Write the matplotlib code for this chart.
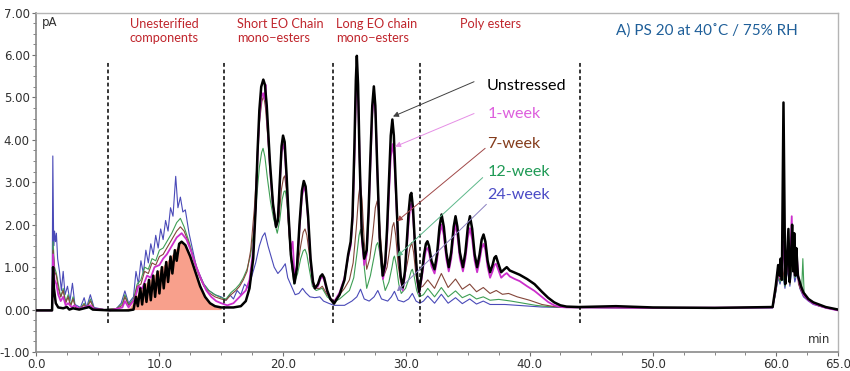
import numpy as np
import matplotlib
matplotlib.use("Agg")
import matplotlib.pyplot as plt
from matplotlib.ticker import MultipleLocator, FormatStrFormatter

# (time min, signal pA)
unstressed = [
    (0.0, -0.02), (1.3, -0.02), (1.38, 1.0), (1.45, 0.5), (1.6, 0.15), (1.8, 0.05), (2.2, 0.03),
    (2.5, 0.06), (2.7, 0.0), (3.0, 0.03), (3.5, 0.0), (4.3, 0.06), (4.6, 0.0), (6.0, -0.02),
    (7.5, -0.02), (7.9, 0.0), (8.1, 0.3), (8.25, 0.08), (8.45, 0.5), (8.6, 0.12), (8.8, 0.6),
    (8.95, 0.18), (9.15, 0.7), (9.3, 0.22), (9.5, 0.8), (9.65, 0.3), (9.85, 0.9), (10.0, 0.38),
    (10.2, 1.0), (10.35, 0.5), (10.55, 1.12), (10.7, 0.65), (10.9, 1.25), (11.05, 0.85),
    (11.25, 1.4), (11.4, 1.15), (11.6, 1.55), (11.8, 1.6), (12.1, 1.52), (12.5, 1.25),
    (12.9, 0.9), (13.3, 0.55), (13.7, 0.3), (14.1, 0.15), (14.5, 0.08), (15.0, 0.05),
    (16.0, 0.05), (16.6, 0.08), (17.0, 0.2), (17.3, 0.5), (17.6, 1.2), (17.8, 2.4),
    (17.95, 3.7), (18.1, 4.7), (18.25, 5.25), (18.42, 5.42), (18.55, 5.3), (18.7, 4.8),
    (18.95, 3.5), (19.2, 2.5), (19.45, 1.95), (19.6, 2.1), (19.75, 3.0), (19.9, 3.85),
    (20.02, 4.1), (20.15, 3.95), (20.3, 3.2), (20.45, 2.3), (20.65, 1.3), (20.95, 0.62),
    (21.15, 1.0), (21.35, 2.0), (21.55, 2.8), (21.7, 3.03), (21.85, 2.9), (22.05, 2.2),
    (22.25, 1.2), (22.45, 0.65), (22.6, 0.5), (22.85, 0.6), (23.05, 0.78), (23.2, 0.83),
    (23.35, 0.75), (23.6, 0.45), (23.85, 0.25), (24.15, 0.14), (24.6, 0.35), (25.0, 0.7),
    (25.3, 1.3), (25.5, 1.6), (25.65, 2.2), (25.8, 3.8), (25.92, 5.4), (26.0, 5.98),
    (26.1, 5.3), (26.22, 3.6), (26.4, 1.8), (26.6, 1.2), (26.8, 1.4), (26.95, 2.3), (27.1, 3.6),
    (27.25, 4.8), (27.38, 5.26), (27.5, 4.8), (27.65, 3.4), (27.85, 1.7), (28.1, 0.8),
    (28.3, 1.1), (28.45, 1.9), (28.6, 3.0), (28.75, 4.1), (28.88, 4.48), (29.0, 4.1),
    (29.15, 3.0), (29.35, 1.6), (29.55, 0.8), (29.72, 0.52), (29.9, 0.9), (30.05, 1.6),
    (30.2, 2.3), (30.33, 2.7), (30.42, 2.75), (30.55, 2.4), (30.7, 1.6), (30.9, 0.75),
    (31.05, 0.42), (31.25, 0.8), (31.45, 1.3), (31.6, 1.55), (31.72, 1.61), (31.85, 1.5),
    (32.05, 1.15), (32.3, 0.95), (32.5, 1.3), (32.7, 1.95), (32.87, 2.24), (33.05, 1.95),
    (33.25, 1.35), (33.45, 1.0), (33.65, 1.35), (33.85, 1.95), (34.0, 2.2), (34.15, 1.95),
    (34.35, 1.35), (34.6, 1.0), (34.8, 1.35), (35.0, 1.95), (35.17, 2.2), (35.35, 1.9),
    (35.55, 1.3), (35.75, 1.0), (35.95, 1.3), (36.12, 1.65), (36.27, 1.77), (36.42, 1.6),
    (36.6, 1.15), (36.8, 0.88), (37.0, 1.05), (37.15, 1.22), (37.28, 1.26), (37.45, 1.1),
    (37.7, 0.88), (37.95, 0.95), (38.15, 1.0), (38.4, 0.92), (38.8, 0.87), (39.2, 0.82),
    (39.8, 0.72), (40.4, 0.6), (41.0, 0.42), (41.5, 0.28), (42.0, 0.17), (42.5, 0.1),
    (43.0, 0.07), (44.0, 0.06), (47.0, 0.08), (50.0, 0.05), (55.0, 0.04), (59.7, 0.06),
    (59.95, 0.55), (60.15, 1.05), (60.25, 0.8), (60.35, 1.2), (60.45, 0.7), (60.58, 4.88),
    (60.72, 0.6), (60.82, 0.9), (60.98, 1.9), (61.08, 0.65), (61.18, 1.1), (61.28, 2.0),
    (61.38, 0.9), (61.45, 1.8), (61.55, 0.8), (61.62, 1.45), (61.75, 0.8), (62.0, 0.55),
    (62.2, 0.4), (62.6, 0.25), (63.0, 0.17), (64.0, 0.06), (65.0, 0.0),
]

week1 = [
    (0.0, -0.02), (1.3, -0.02), (1.38, 1.3), (1.5, 0.7), (1.65, 0.6), (1.8, 0.35), (2.0, 0.2),
    (2.2, 0.3), (2.4, 0.1), (2.6, 0.15), (2.9, 0.05), (3.1, 0.1), (3.5, 0.02), (4.4, 0.1),
    (4.7, 0.02), (6.0, -0.02), (7.0, 0.05), (7.2, 0.2), (7.5, 0.05), (8.0, 0.25), (8.3, 0.55),
    (8.6, 0.5), (9.0, 0.8), (9.3, 0.75), (9.6, 1.0), (10.0, 1.05), (10.3, 1.2), (10.6, 1.3),
    (11.0, 1.5), (11.4, 1.7), (11.8, 1.8), (12.2, 1.65), (12.6, 1.35), (13.0, 1.0), (13.4, 0.7),
    (13.8, 0.45), (14.2, 0.3), (14.6, 0.2), (15.0, 0.15), (15.5, 0.1), (16.0, 0.15), (16.5, 0.3),
    (17.0, 0.45), (17.3, 0.7), (17.6, 1.4), (17.8, 2.4), (17.95, 3.6), (18.1, 4.5),
    (18.25, 5.0), (18.4, 5.1), (18.52, 4.95), (18.6, 5.3), (18.68, 4.75), (18.95, 3.4),
    (19.2, 2.45), (19.45, 1.95), (19.6, 2.1), (19.75, 2.9), (19.9, 3.7), (20.02, 3.9),
    (20.15, 3.75), (20.3, 3.05), (20.45, 2.2), (20.65, 1.4), (20.8, 1.6), (20.95, 0.8),
    (21.15, 1.05), (21.35, 1.9), (21.55, 2.65), (21.72, 2.9), (21.88, 2.75), (22.05, 2.1),
    (22.25, 1.15), (22.45, 0.6), (22.6, 0.5), (22.85, 0.55), (23.05, 0.72), (23.2, 0.78),
    (23.35, 0.7), (23.6, 0.42), (23.85, 0.26), (24.15, 0.18), (24.6, 0.4), (25.0, 0.75),
    (25.3, 1.25), (25.5, 1.5), (25.65, 2.1), (25.8, 3.5), (25.92, 5.0), (26.02, 5.5),
    (26.12, 4.9), (26.25, 3.3), (26.42, 1.6), (26.6, 1.05), (26.8, 1.3), (26.95, 2.2),
    (27.1, 3.4), (27.25, 4.6), (27.4, 5.1), (27.52, 4.6), (27.67, 3.2), (27.87, 1.5),
    (28.12, 0.72), (28.3, 1.0), (28.45, 1.7), (28.6, 2.7), (28.75, 3.6), (28.9, 3.9),
    (29.02, 3.6), (29.17, 2.7), (29.37, 1.4), (29.57, 0.7), (29.72, 0.45), (29.9, 0.8),
    (30.05, 1.45), (30.2, 2.05), (30.33, 2.42), (30.43, 2.5), (30.56, 2.2), (30.72, 1.45),
    (30.9, 0.68), (31.05, 0.38), (31.25, 0.72), (31.45, 1.15), (31.6, 1.4), (31.72, 1.45),
    (31.85, 1.35), (32.05, 1.02), (32.3, 0.85), (32.5, 1.15), (32.7, 1.75), (32.87, 2.0),
    (33.05, 1.75), (33.25, 1.2), (33.45, 0.9), (33.65, 1.2), (33.85, 1.75), (34.0, 2.0),
    (34.15, 1.75), (34.35, 1.2), (34.6, 0.9), (34.8, 1.2), (35.0, 1.7), (35.17, 1.92),
    (35.35, 1.65), (35.55, 1.15), (35.75, 0.88), (35.95, 1.15), (36.12, 1.45), (36.27, 1.55),
    (36.42, 1.4), (36.6, 1.0), (36.8, 0.75), (37.0, 0.9), (37.15, 1.05), (37.28, 1.08),
    (37.45, 0.95), (37.7, 0.75), (37.95, 0.82), (38.15, 0.86), (38.4, 0.78), (38.8, 0.72),
    (39.2, 0.67), (39.8, 0.55), (40.4, 0.44), (41.0, 0.3), (41.5, 0.18), (42.0, 0.1),
    (42.5, 0.06), (43.0, 0.05), (44.0, 0.05), (50.0, 0.04), (59.7, 0.05), (59.95, 0.5),
    (60.15, 0.95), (60.3, 0.75), (60.45, 1.0), (60.6, 1.6), (60.72, 0.6), (60.9, 1.2),
    (61.05, 0.7), (61.25, 2.2), (61.35, 0.9), (61.45, 1.7), (61.55, 0.8), (61.65, 1.3),
    (61.8, 0.7), (62.0, 0.5), (62.2, 0.35), (62.6, 0.22), (63.0, 0.14), (64.0, 0.04),
    (65.0, -0.02),
]

week7 = [
    (0.0, -0.02), (1.3, -0.02), (1.38, 1.4), (1.5, 0.9), (1.65, 0.8), (1.8, 0.5), (2.0, 0.3),
    (2.2, 0.45), (2.4, 0.15), (2.6, 0.3), (2.8, 0.08), (3.0, 0.25), (3.2, 0.05), (3.6, 0.03),
    (3.9, 0.12), (4.1, 0.03), (4.4, 0.2), (4.7, 0.03), (5.5, 0.0), (6.5, 0.02), (7.0, 0.1),
    (7.2, 0.3), (7.5, 0.1), (7.9, 0.2), (8.2, 0.55), (8.5, 0.6), (8.8, 0.9), (9.1, 0.85),
    (9.4, 1.1), (9.7, 1.05), (10.0, 1.25), (10.3, 1.3), (10.6, 1.45), (11.0, 1.65), (11.4, 1.85),
    (11.7, 1.95), (12.0, 1.85), (12.4, 1.55), (12.8, 1.15), (13.2, 0.8), (13.6, 0.55),
    (14.0, 0.4), (14.5, 0.3), (15.0, 0.25), (15.4, 0.22), (15.8, 0.35), (16.2, 0.45),
    (16.5, 0.55), (16.8, 0.7), (17.1, 0.9), (17.4, 1.4), (17.7, 2.4), (17.9, 3.4), (18.1, 4.4),
    (18.3, 4.9), (18.45, 5.05), (18.6, 4.75), (18.8, 4.0), (19.0, 3.2), (19.25, 2.4),
    (19.5, 2.0), (19.7, 2.2), (19.9, 2.85), (20.05, 3.1), (20.15, 3.15), (20.3, 2.8),
    (20.5, 1.8), (20.7, 1.1), (20.9, 0.7), (21.2, 1.0), (21.45, 1.5), (21.65, 1.82),
    (21.8, 1.9), (21.95, 1.75), (22.15, 1.3), (22.4, 0.7), (22.7, 0.5), (23.0, 0.5),
    (23.2, 0.55), (23.6, 0.35), (24.15, 0.2), (24.6, 0.35), (25.0, 0.5), (25.4, 0.7),
    (25.7, 1.1), (25.95, 1.9), (26.15, 2.7), (26.28, 2.95), (26.42, 2.6), (26.6, 1.6),
    (26.8, 0.95), (27.05, 1.2), (27.3, 1.8), (27.5, 2.4), (27.65, 2.56), (27.8, 2.25),
    (28.0, 1.4), (28.2, 0.8), (28.45, 1.0), (28.7, 1.5), (28.88, 1.95), (29.0, 2.05),
    (29.15, 1.75), (29.35, 1.05), (29.55, 0.65), (29.85, 0.75), (30.1, 1.1), (30.3, 1.45),
    (30.45, 1.58), (30.6, 1.35), (30.8, 0.8), (31.0, 0.5), (31.35, 0.55), (31.75, 0.7),
    (32.3, 0.5), (32.85, 0.85), (33.4, 0.52), (34.0, 0.72), (34.55, 0.48), (35.15, 0.6),
    (35.7, 0.42), (36.25, 0.52), (36.8, 0.38), (37.3, 0.45), (37.8, 0.36), (38.3, 0.38),
    (39.0, 0.3), (40.0, 0.22), (41.0, 0.12), (42.0, 0.07), (43.0, 0.05), (50.0, 0.04),
    (59.7, 0.05), (59.95, 0.45), (60.15, 0.85), (60.3, 0.7), (60.5, 1.0), (60.7, 0.6),
    (60.9, 1.1), (61.1, 0.6), (61.3, 1.4), (61.45, 0.8), (61.6, 1.2), (61.8, 0.6), (62.0, 0.45),
    (62.3, 0.3), (62.8, 0.18), (63.5, 0.08), (65.0, 0.0),
]

week12 = [
    (0.0, -0.02), (1.3, -0.02), (1.38, 1.6), (1.5, 1.0), (1.65, 0.85), (1.8, 0.6), (2.0, 0.3),
    (2.2, 0.5), (2.4, 0.18), (2.6, 0.35), (2.8, 0.1), (3.0, 0.3), (3.2, 0.05), (3.6, 0.03),
    (3.9, 0.15), (4.1, 0.03), (4.4, 0.25), (4.7, 0.03), (5.5, 0.0), (6.5, 0.02), (7.0, 0.15),
    (7.2, 0.35), (7.5, 0.12), (7.9, 0.25), (8.2, 0.6), (8.5, 0.7), (8.8, 1.0), (9.1, 0.95),
    (9.4, 1.2), (9.7, 1.15), (10.0, 1.4), (10.3, 1.45), (10.6, 1.6), (11.0, 1.8), (11.4, 2.05),
    (11.7, 2.15), (12.0, 1.95), (12.4, 1.6), (12.8, 1.2), (13.2, 0.85), (13.6, 0.6),
    (14.0, 0.45), (14.5, 0.35), (15.0, 0.28), (15.4, 0.25), (15.8, 0.4), (16.2, 0.5),
    (16.5, 0.6), (16.8, 0.75), (17.1, 0.95), (17.4, 1.3), (17.7, 2.0), (17.9, 2.7),
    (18.1, 3.35), (18.28, 3.7), (18.4, 3.8), (18.55, 3.6), (18.75, 3.1), (19.0, 2.55),
    (19.25, 2.15), (19.55, 1.8), (19.75, 2.1), (19.95, 2.6), (20.1, 2.78), (20.2, 2.8),
    (20.35, 2.5), (20.55, 1.6), (20.75, 0.95), (20.9, 0.6), (21.2, 0.85), (21.45, 1.2),
    (21.65, 1.38), (21.8, 1.42), (21.95, 1.3), (22.15, 0.95), (22.4, 0.55), (22.7, 0.45),
    (23.2, 0.5), (23.6, 0.3), (24.15, 0.18), (24.6, 0.25), (25.0, 0.35), (25.4, 0.45),
    (25.75, 0.75), (26.0, 1.3), (26.18, 1.75), (26.3, 1.89), (26.45, 1.6), (26.62, 0.95),
    (26.8, 0.5), (27.1, 0.8), (27.4, 1.25), (27.58, 1.52), (27.7, 1.58), (27.85, 1.35),
    (28.05, 0.8), (28.3, 0.45), (28.6, 0.65), (28.85, 1.0), (28.98, 1.22), (29.05, 1.26),
    (29.2, 1.05), (29.4, 0.6), (29.6, 0.38), (29.95, 0.5), (30.25, 0.75), (30.42, 0.92),
    (30.5, 0.95), (30.65, 0.78), (30.85, 0.45), (31.05, 0.3), (31.4, 0.35), (31.75, 0.5),
    (32.3, 0.3), (32.85, 0.52), (33.4, 0.3), (34.0, 0.44), (34.55, 0.28), (35.15, 0.36),
    (35.7, 0.25), (36.25, 0.3), (36.8, 0.22), (37.5, 0.24), (38.5, 0.2), (39.5, 0.15),
    (40.5, 0.1), (41.5, 0.07), (43.0, 0.05), (50.0, 0.04), (59.7, 0.05), (59.95, 0.4),
    (60.15, 0.8), (60.3, 0.65), (60.5, 0.9), (60.7, 0.55), (60.9, 1.0), (61.1, 0.6),
    (61.3, 1.2), (61.5, 0.75), (61.7, 1.0), (61.9, 0.55), (62.05, 0.45), (62.15, 1.2),
    (62.25, 0.4), (62.5, 0.28), (62.9, 0.16), (63.5, 0.08), (65.0, 0.0),
]

week24 = [
    (0.0, -0.02), (1.3, -0.02), (1.36, 3.62), (1.43, 1.5), (1.5, 1.85), (1.58, 1.6),
    (1.65, 1.8), (1.75, 1.2), (1.9, 0.9), (2.05, 0.45), (2.2, 0.9), (2.35, 0.35), (2.55, 0.55),
    (2.75, 0.2), (2.95, 0.62), (3.15, 0.12), (3.6, 0.05), (3.9, 0.28), (4.1, 0.05), (4.4, 0.35),
    (4.7, 0.05), (5.5, 0.0), (6.5, 0.02), (6.9, 0.15), (7.2, 0.44), (7.5, 0.15), (7.9, 0.3),
    (8.1, 0.9), (8.3, 0.6), (8.5, 1.15), (8.7, 0.85), (8.9, 1.4), (9.1, 1.1), (9.3, 1.55),
    (9.5, 1.3), (9.7, 1.75), (9.9, 1.45), (10.1, 1.9), (10.3, 1.65), (10.5, 2.1), (10.7, 1.85),
    (10.9, 2.4), (11.1, 2.2), (11.32, 3.14), (11.5, 2.4), (11.7, 2.65), (11.9, 2.3),
    (12.1, 2.35), (12.4, 1.8), (12.7, 1.4), (13.0, 1.0), (13.3, 0.8), (13.6, 0.6), (14.0, 0.45),
    (14.5, 0.35), (15.0, 0.3), (15.4, 0.22), (15.7, 0.35), (16.0, 0.25), (16.3, 0.45),
    (16.6, 0.35), (16.9, 0.6), (17.2, 0.5), (17.5, 0.8), (17.8, 1.1), (18.1, 1.5),
    (18.35, 1.72), (18.55, 1.81), (18.8, 1.5), (19.0, 1.3), (19.3, 1.0), (19.6, 0.85),
    (19.9, 0.95), (20.2, 1.08), (20.4, 0.75), (20.7, 0.55), (21.0, 0.35), (21.3, 0.38),
    (21.6, 0.5), (21.85, 0.4), (22.2, 0.3), (22.6, 0.28), (23.0, 0.3), (23.3, 0.2),
    (23.7, 0.15), (24.15, 0.1), (25.0, 0.1), (25.6, 0.2), (26.0, 0.3), (26.3, 0.48),
    (26.6, 0.25), (27.0, 0.2), (27.4, 0.3), (27.7, 0.45), (28.0, 0.25), (28.5, 0.2),
    (28.8, 0.3), (29.05, 0.43), (29.35, 0.22), (29.8, 0.18), (30.2, 0.25), (30.5, 0.38),
    (30.8, 0.2), (31.1, 0.15), (31.4, 0.2), (31.75, 0.32), (32.3, 0.15), (32.85, 0.36),
    (33.4, 0.15), (34.0, 0.28), (34.55, 0.14), (35.15, 0.25), (35.7, 0.13), (36.25, 0.2),
    (36.8, 0.12), (38.0, 0.12), (39.5, 0.09), (41.0, 0.06), (43.0, 0.05), (50.0, 0.03),
    (59.7, 0.04), (59.95, 0.4), (60.15, 0.75), (60.3, 0.6), (60.5, 0.85), (60.7, 0.5),
    (60.9, 0.95), (61.1, 0.55), (61.3, 1.1), (61.5, 0.65), (61.7, 0.9), (61.9, 0.5),
    (62.2, 0.3), (62.6, 0.2), (63.0, 0.12), (64.0, 0.04), (65.0, -0.02),
]

# outline of the shaded unesterified area of the unstressed sample
shaded = [
    (7.0, 0.0), (7.6, 0.05), (8.1, 0.3), (8.45, 0.5), (8.8, 0.6), (9.15, 0.7), (9.5, 0.8),
    (9.85, 0.9), (10.2, 1.0), (10.55, 1.12), (10.9, 1.25), (11.25, 1.4), (11.6, 1.55),
    (11.8, 1.6), (12.1, 1.52), (12.5, 1.25), (12.9, 0.9), (13.3, 0.55), (13.7, 0.3),
    (14.1, 0.15), (14.5, 0.08), (15.0, 0.04),
]

region_bounds = [5.8, 15.25, 24.1, 31.15, 44.05]
region_labels = ["Unesterified\ncomponents", "Short EO Chain\nmono\u2212esters",
                 "Long EO chain\nmono\u2212esters", "Poly esters"]
region_label_x = [7.6, 16.3, 24.35, 34.4]

series_names = ["Unstressed", "1-week", "7-week", "12-week", "24-week"]
series_data = [unstressed, week1, week7, week12, week24]
line_colors = ["#000000", "#cc2fcc", "#84463a", "#3f9f55", "#4a4ab8"]
label_colors = ["#000000", "#dd5fdd", "#843c1c", "#1f9a55", "#4b4bc6"]
arrow_colors = ["#404040", "#e58ee5", "#a04848", "#5cb88a", "#8a80c0"]
line_widths = [1.8, 1.3, 0.8, 0.8, 0.8]
label_pos = [(36.5, 5.28), (36.6, 4.62), (36.6, 3.91), (36.6, 3.25), (36.6, 2.69)]
arrow_tail = [(35.5, 5.37), (35.5, 4.62), (36.4, 3.8), (36.2, 3.11), (36.5, 2.48)]
arrow_head = [(28.93, 4.55), (29.1, 3.84), (29.25, 2.08), (29.25, 1.25), (29.25, 0.43)]

fig = plt.figure(figsize=(8.5, 3.71), dpi=100)
ax = fig.add_axes([0.0424, 0.0512, 0.9435, 0.915])

sh = np.array(shaded)
ax.fill_between(sh[:, 0], 0, sh[:, 1], color="#f8a08c", lw=0, zorder=1)

# oldest sample first so the unstressed trace ends up on top
for i in reversed(range(len(series_data))):
    arr = np.array(series_data[i])
    ax.plot(arr[:, 0], arr[:, 1], color=line_colors[i], lw=line_widths[i],
            solid_joinstyle="round", zorder=2 + (4 - i))

for xb in region_bounds:
    ax.plot([xb, xb], [-0.32, 5.84], color="black", lw=1.1, ls=(0, (2.5, 1.8)), zorder=8)

txt_font = ["Lato", "DejaVu Sans"]
for lab, xl in zip(region_labels, region_label_x):
    ax.text(xl, 6.88, lab, color="#c0262d", fontsize=9.2, family=txt_font,
            ha="left", va="top", linespacing=1.2)

ax.text(47.0, 6.57, "A) PS 20 at 40\u02daC / 75% RH", color="#1f5f99", fontsize=11,
        family=txt_font, ha="left", va="center")

for i, name in enumerate(series_names):
    ax.annotate("", xy=arrow_head[i], xytext=arrow_tail[i],
                arrowprops=dict(arrowstyle="-|>", color=arrow_colors[i], lw=0.7,
                                mutation_scale=8, shrinkA=0, shrinkB=0), zorder=9)
    ax.text(label_pos[i][0], label_pos[i][1], name, color=label_colors[i], fontsize=11.6,
            family=txt_font, ha="left", va="center")

ax.text(0.45, 6.76, "pA", fontsize=8.5, color="#303030", ha="left", va="center")
ax.text(64.4, -0.70, "min", fontsize=8.5, color="#303030", ha="right", va="center")

ax.set_xlim(0, 65)
ax.set_ylim(-1, 7)
ax.set_xticks([0, 10, 20, 30, 40, 50, 60, 65])
ax.xaxis.set_minor_locator(MultipleLocator(2.5))
ax.yaxis.set_major_locator(MultipleLocator(1))
ax.yaxis.set_minor_locator(MultipleLocator(0.25))
ax.xaxis.set_major_formatter(FormatStrFormatter("%.1f"))
ax.yaxis.set_major_formatter(FormatStrFormatter("%.2f"))
ax.tick_params(axis="both", which="major", labelsize=8.5, colors="#707070",
               labelcolor="#303030", length=3, width=0.8, pad=1.5)
ax.tick_params(axis="both", which="minor", colors="#707070", length=2, width=0.6)
for side in ["left", "bottom"]:
    ax.spines[side].set_color("#8a8a8a")
    ax.spines[side].set_linewidth(1.2)
for side in ["top", "right"]:
    ax.spines[side].set_color("#b4b4b4")
    ax.spines[side].set_linewidth(1.0)

fig.savefig("out.png", dpi=100)
